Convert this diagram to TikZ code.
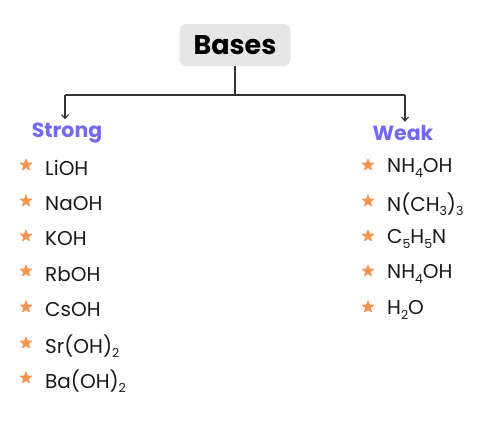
\documentclass[tikz,border=0pt]{standalone}
\usepackage{fontspec}
\setmainfont{Poppins}
\usetikzlibrary{arrows.meta,shapes.geometric}
\definecolor{boxgray}{HTML}{E6E6E6}
\definecolor{headpurple}{HTML}{7468EC}
\definecolor{starorange}{HTML}{F39450}
\definecolor{linegray}{HTML}{333333}
\newcommand\sbs[1]{\raisebox{-0.4ex}{\fontsize{12.5}{12.5}\selectfont #1}}
\begin{document}
\begin{tikzpicture}[x=1pt,y=-1pt,
  titlebox/.style={fill=boxgray,rounded corners=7pt,minimum width=111pt,minimum height=42pt,font=\fontsize{27}{27}\selectfont\bfseries,text=black},
  headlbl/.style={font=\fontsize{20.5}{20.5}\selectfont\bfseries,text=headpurple},
  itemlbl/.style={anchor=west,font=\fontsize{20}{20}\selectfont,text=black!90,inner sep=0pt},
  staricon/.style={star,star points=5,star point ratio=2.4,fill=starorange,draw=starorange,line join=round,line width=0.8pt,minimum size=12pt,inner sep=0pt},
  conn/.style={draw=linegray,line width=1.1pt},
  arr/.style={conn,-{Straight Barb[length=4pt,width=7pt]}}]
\useasboundingbox (0,0) rectangle (487,442);
\node[titlebox] (bases) at (235,45) {Bases};
\coordinate (j) at (235,95);
\coordinate (jl) at (65,95);
\coordinate (jr) at (405,95);
\node[headlbl] (strong) at (67,133) {Strong};
\node[headlbl] (weak) at (403,133) {Weak};
\draw[conn] (bases.south) -- (j);
\draw[conn] (jl) -- (jr);
\draw[arr] (jl) -- (strong.north -| jl);
\draw[arr] (jr) -- (weak.north -| jr);
% strong list
\foreach \n/\y/\t in {s1/168/LiOH,s2/204/NaOH,s3/239/KOH,s4/274/RbOH,s5/310/CsOH,s6/346/Sr(OH)\sbs{2},s7/381/Ba(OH)\sbs{2}}{
  \node[staricon] (\n star) at (26,\y-3) {};
  \node[itemlbl] (\n) at (45,\y) {\t};
}
% weak list
\foreach \n/\y/\t in {w1/168/NH\sbs{4}OH,w2/204/N(CH\sbs{3})\sbs{3},w3/239/C\sbs{5}H\sbs{5}N,w4/274/NH\sbs{4}OH,w5/310/H\sbs{2}O}{
  \node[staricon] (\n star) at (368,\y-3) {};
  \node[itemlbl] (\n) at (387,\y) {\t};
}
\end{tikzpicture}
\end{document}
